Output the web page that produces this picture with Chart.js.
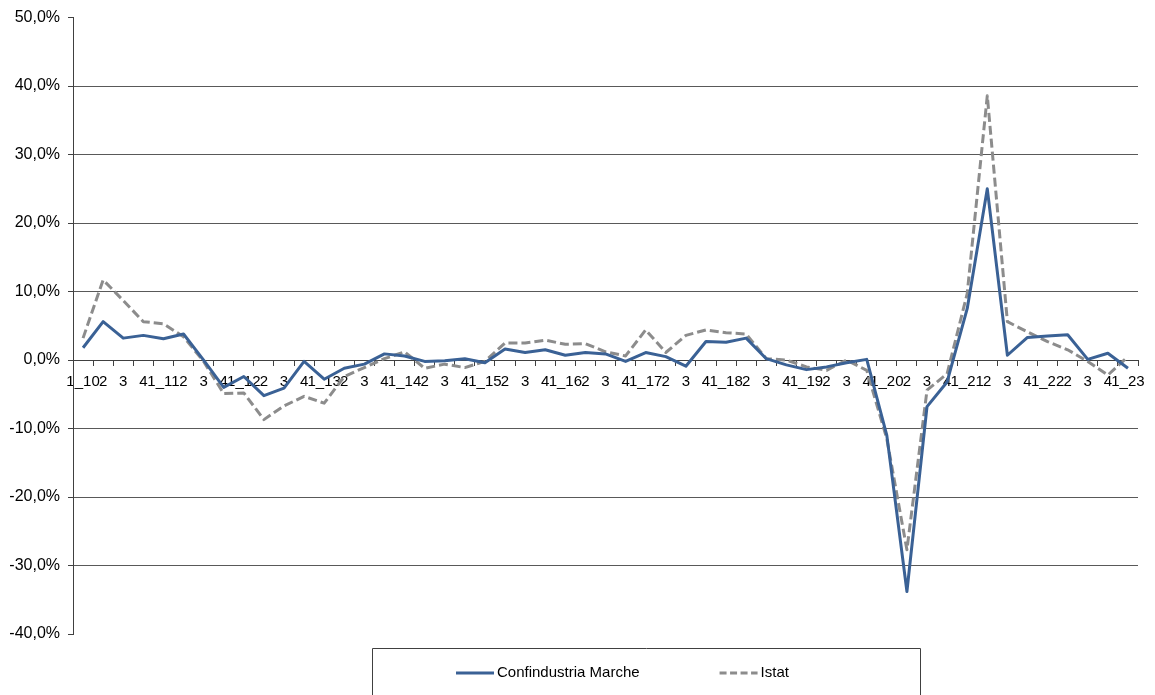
<!DOCTYPE html>
<html lang="it">
<head>
<meta charset="utf-8">
<title>Confindustria Marche - Istat</title>
<script src="https://cdn.jsdelivr.net/npm/chart.js@4.4.1/dist/chart.umd.min.js"></script>
<style>
  html, body { margin: 0; padding: 0; background: #fff; }
  #contenitore { width: 1155px; height: 695px; }
</style>
</head>
<body>
<div id="contenitore"><canvas id="grafico"></canvas></div>
<script>
// ---------------------------------------------------------
// Dati (variazioni %, trimestri 1_10 ... 1_23)
// ---------------------------------------------------------
const trimestri = [
  '1_10', '2', '3', '4',
  '1_11', '2', '3', '4',
  '1_12', '2', '3', '4',
  '1_13', '2', '3', '4',
  '1_14', '2', '3', '4',
  '1_15', '2', '3', '4',
  '1_16', '2', '3', '4',
  '1_17', '2', '3', '4',
  '1_18', '2', '3', '4',
  '1_19', '2', '3', '4',
  '1_20', '2', '3', '4',
  '1_21', '2', '3', '4',
  '1_22', '2', '3', '4',
  '1_23'
];

const confindustria = [
  1.8, 5.6, 3.2, 3.6,
  3.1, 3.8, 0.0, -4.0,
  -2.4, -5.2, -4.1, -0.2,
  -2.8, -1.2, -0.6, 0.9,
  0.6, -0.2, -0.1, 0.2,
  -0.4, 1.6, 1.1, 1.5,
  0.7, 1.1, 0.9, -0.2,
  1.1, 0.5, -0.9, 2.7,
  2.6, 3.2, 0.2, -0.7,
  -1.4, -1.0, -0.4, 0.1,
  -11.0, -33.8, -6.8, -3.2,
  7.5, 25.0, 0.7, 3.3,
  3.5, 3.7, 0.1, 1.0,
  -1.2
];

const istat = [
  3.2, 11.7, 8.7, 5.6,
  5.3, 3.4, -0.2, -4.9,
  -4.8, -8.7, -6.7, -5.3,
  -6.3, -2.4, -1.1, 0.2,
  1.2, -1.2, -0.6, -1.1,
  -0.2, 2.5, 2.5, 2.9,
  2.3, 2.4, 1.2, 0.6,
  4.4, 1.1, 3.6, 4.4,
  4.0, 3.8, 0.2, 0.0,
  -1.0, -1.5, 0.0, -1.5,
  -11.5, -27.7, -4.4, -2.0,
  9.7, 38.6, 5.6, 4.1,
  2.7, 1.5, -0.2, -2.2,
  0.5
];

const asseMin = -40;
const asseMax = 50;
const asseStep = 10;

// ---------------------------------------------------------
// Stile
// ---------------------------------------------------------
const BLU = '#3A6195';
const GRIGIO = '#8C8C8C';
const LINEA_ASSE = '#404040';
const LINEA_GRIGLIA = '#595959';

Chart.defaults.font.family = '"Liberation Sans", Arial, sans-serif';
Chart.defaults.color = '#000';

// Legenda disegnata a mano: riquadro aperto in basso, come nell'originale
const legendaRiquadro = {
  id: 'legendaRiquadro',
  afterDraw(chart) {
    const ctx = chart.ctx;
    const sx = 372.5, sy = 648.5, larg = 548;
    ctx.save();
    ctx.strokeStyle = LINEA_ASSE;
    ctx.lineWidth = 1;
    ctx.beginPath();
    ctx.moveTo(sx, chart.height + 2);
    ctx.lineTo(sx, sy);
    ctx.lineTo(sx + larg, sy);
    ctx.lineTo(sx + larg, chart.height + 2);
    ctx.stroke();

    ctx.font = '15px "Liberation Sans", Arial, sans-serif';
    ctx.textBaseline = 'middle';
    ctx.textAlign = 'left';
    const y = 673;
    let x = 456;
    chart.data.datasets.forEach(ds => {
      ctx.strokeStyle = ds.borderColor;
      ctx.lineWidth = ds.borderWidth;
      ctx.setLineDash(ds.trattoLegenda || []);
      ctx.beginPath();
      ctx.moveTo(x, y);
      ctx.lineTo(x + 38, y);
      ctx.stroke();
      ctx.setLineDash([]);
      ctx.fillStyle = '#000';
      ctx.fillText(ds.label, x + 41, y);
      x += 41 + ctx.measureText(ds.label).width + 80;
    });
    ctx.restore();
  }
};

const ctxGrafico = document.getElementById('grafico').getContext('2d');
new Chart(ctxGrafico, {
  type: 'line',
  data: {
    labels: trimestri,
    datasets: [
      {
        label: 'Confindustria Marche',
        data: confindustria,
        borderColor: BLU,
        backgroundColor: BLU,
        borderWidth: 3,
        borderJoinStyle: 'round',
        pointRadius: 0,
        tension: 0,
        fill: false
      },
      {
        label: 'Istat',
        data: istat,
        borderColor: GRIGIO,
        backgroundColor: GRIGIO,
        borderWidth: 3,
        borderJoinStyle: 'round',
        borderDash: [9, 4],
        trattoLegenda: [7, 3.5],
        pointRadius: 0,
        tension: 0,
        fill: false
      }
    ]
  },
  options: {
    responsive: true,
    maintainAspectRatio: false,
    animation: false,
    layout: { padding: { top: 17, right: 17, bottom: 61, left: 0 } },
    plugins: {
      legend: { display: false },
      tooltip: { enabled: false }
    },
    scales: {
      x: {
        type: 'category',
        offset: true,
        position: { y: 0 },
        grid: {
          drawOnChartArea: false,
          drawTicks: true,
          tickLength: 5,
          offset: true,
          color: LINEA_ASSE
        },
        border: { display: true, color: LINEA_ASSE, width: 1 },
        ticks: {
          autoSkip: false,
          maxRotation: 0,
          minRotation: 0,
          padding: 8,
          font: { size: 15 }
        }
      },
      y: {
        min: asseMin,
        max: asseMax,
        afterFit(scala) { scala.width = 73; },
        grid: {
          color: c => (c.tick && (c.tick.value === asseMax || c.tick.value === asseMin)) ? 'rgba(0,0,0,0)' : LINEA_GRIGLIA,
          tickColor: LINEA_ASSE,
          drawTicks: true,
          tickLength: 5,
          lineWidth: 1
        },
        border: { display: true, color: LINEA_ASSE, width: 1 },
        ticks: {
          stepSize: asseStep,
          padding: 8,
          font: { size: 16 },
          callback: v => v.toFixed(1).replace('.', ',') + '%'
        }
      }
    }
  },
  plugins: [legendaRiquadro]
});
</script>
</body>
</html>
